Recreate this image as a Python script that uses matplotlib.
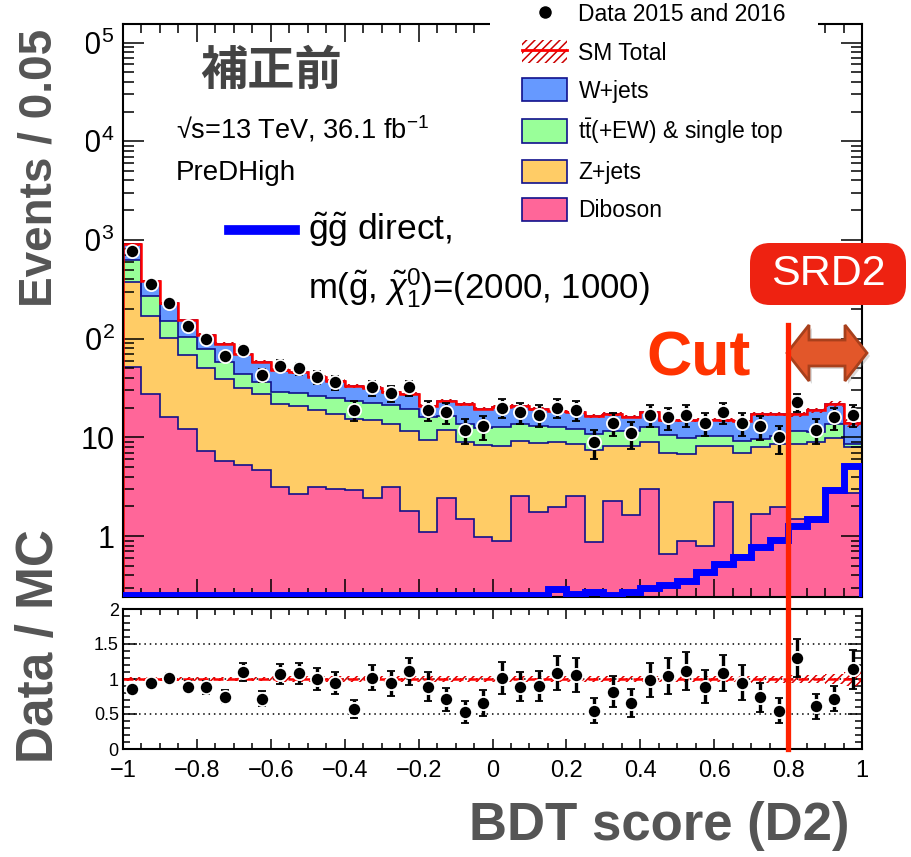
import numpy as np
import matplotlib
matplotlib.use("Agg")
import matplotlib.pyplot as plt
import matplotlib.transforms as mtransforms
from matplotlib.patches import Patch, Polygon, FancyBboxPatch, Rectangle
from matplotlib.lines import Line2D
from matplotlib.ticker import (MultipleLocator, LogLocator, FixedLocator, FuncFormatter,
                               NullFormatter)

plt.rcParams['font.family'] = ['Liberation Sans', 'Noto Sans CJK JP', 'DejaVu Sans']
plt.rcParams['mathtext.fontset'] = 'custom'
plt.rcParams['mathtext.rm'] = 'Liberation Sans'
plt.rcParams['mathtext.it'] = 'Liberation Sans:italic'
plt.rcParams['mathtext.bf'] = 'Liberation Sans:bold'
plt.rcParams['hatch.linewidth'] = 1.1

# 40 bins of BDT score between -1 and 1
x_lo, x_hi, n_bins = -1.0, 1.0, 40
cut_value = 0.8
y_major = [1, 10, 100, 1000, 10000, 100000]

diboson = [52, 27.4, 15.9, 12.1, 7.3, 5.8, 5.2, 4.65, 3.14, 2.65,
           3.15, 2.98, 2.91, 2.45, 3.15, 1.8, 1.1, 2.45, 1.5, 0.97,
           0.9, 2.55, 1.75, 1.99, 2.55, 0.875, 2.27, 1.63, 2.98, 0.65,
           0.88, 0.80, 2.23, 0.64, 1.66, 1.95, 1.5, 1.4, 2.8, 2.75]
zjets = [321, 143.6, 86.1, 56.7, 43.1, 33.2, 26.4, 22.75, 18.56, 18.35,
         15.95, 14.32, 12.39, 12.55, 10.65, 9.8, 8.4, 9.35, 7.5, 7.43,
         7.3, 6.65, 6.95, 6.91, 5.95, 6.53, 5.93, 6.57, 6.02, 6.35,
         5.87, 7.4, 5.97, 6.36, 6.34, 6.55, 7.15, 7.5, 7.15, 5.15]
ttbar = [257, 102, 50, 34.2, 28.1, 19.3, 12.2, 8.6, 6.8, 7.0,
         7.4, 7.7, 8.2, 7.5, 7.7, 7.9, 6.5, 4.7, 4.8, 4.1,
         4.6, 4.6, 4.4, 3.7, 3.6, 3.4, 3.4, 3.4, 3.6, 3.6,
         3.2, 2.2, 2.2, 2.2, 1.6, 1.9, 2.95, 2.3, 3.65, 0.6]
wjets = [270, 109, 76, 52, 31.5, 30, 26.2, 22.3, 19.5, 17.5,
         14.6, 12.5, 9.8, 9.1, 7.0, 7.9, 5.0, 7.0, 7.9, 7.0,
         7.6, 7.1, 6.2, 5.7, 5.8, 5.7, 5.6, 4.6, 5.3, 4.4,
         5.05, 4.6, 4.6, 5.3, 7.6, 6.8, 5.6, 7.7, 8.1, 5.6]
signal = [0.255, 0.255, 0.255, 0.255, 0.255, 0.255, 0.255, 0.255, 0.255, 0.255,
          0.255, 0.255, 0.255, 0.255, 0.255, 0.255, 0.255, 0.255, 0.255, 0.255,
          0.255, 0.255, 0.255, 0.29, 0.26, 0.27, 0.255, 0.27, 0.30, 0.32,
          0.35, 0.43, 0.52, 0.62, 0.78, 0.92, 1.25, 1.5, 2.9, 5.1]
data = [770, 359, 228, 135, 99, 66, 77, 43, 53, 50,
        41, 36, 19, 32, 28, 32, 19, 18, 12, 13,
        20, 18, 17, 20, 19, 9, 14, 11, 17, 16,
        17, 14, 18, 14, 13, 10, 23, 12, 16, 17]
ratio = [0.86, 0.94, 1.02, 0.89, 0.88, 0.75, 1.10, 0.72, 1.07, 1.08,
         1.00, 0.94, 0.57, 1.02, 0.94, 1.11, 0.89, 0.71, 0.53, 0.66,
         1.01, 0.89, 0.90, 1.09, 1.06, 0.55, 0.82, 0.66, 0.99, 1.04,
         1.11, 0.89, 1.09, 0.95, 0.74, 0.55, 1.30, 0.61, 0.72, 1.14]
sm_rel_unc = [0.03, 0.03, 0.03, 0.03, 0.035, 0.035, 0.035, 0.035, 0.04, 0.04,
              0.04, 0.04, 0.04, 0.04, 0.04, 0.04, 0.04, 0.04, 0.04, 0.04,
              0.04, 0.04, 0.04, 0.04, 0.04, 0.04, 0.04, 0.04, 0.04, 0.04,
              0.04, 0.04, 0.04, 0.04, 0.05, 0.05, 0.06, 0.06, 0.07, 0.10]
ratio_lines = [0.5, 1.0, 1.5]

processes = [("Diboson", diboson, "#ff6699"),
             ("Z+jets", zjets, "#ffcc66"),
             (r"$\mathrm{t}\bar{\mathrm{t}}$(+EW) & single top", ttbar, "#99ff99"),
             ("W+jets", wjets, "#6699ff")]
navy = "#10108c"
label_grey = "#555555"

edges = np.linspace(x_lo, x_hi, n_bins + 1)
centers = 0.5 * (edges[1:] + edges[:-1])
data = np.array(data, dtype=float)
ratio = np.array(ratio)
unc = np.array(sm_rel_unc)

fig = plt.figure(figsize=(9.12, 8.57), dpi=100)
ax = fig.add_axes([123 / 912, 260.3 / 857, 739 / 912, 572.7 / 857])
axr = fig.add_axes([123 / 912, 108 / 857, 739 / 912, 140 / 857])

# stacked backgrounds
base = np.full(n_bins, 1e-3)
for name, vals, col in processes:
    top = base + np.array(vals)
    ax.stairs(top, edges, baseline=base, fill=True, color=col, lw=0, zorder=1)
    ax.stairs(top, edges, baseline=None, color=navy, lw=1.2, zorder=1.5)
    base = top
total = base

ax.stairs(total * (1 + unc), edges, baseline=total * (1 - unc), fill=True,
          facecolor="none", edgecolor="#cc0000", hatch="////", lw=0, zorder=2)
ax.stairs(total, edges, baseline=1e-3, color="red", lw=1.8, zorder=2.2)
ax.stairs(signal, edges, baseline=1e-3, color="#0000ff", lw=5, zorder=3)

ax.errorbar(centers, data, yerr=np.sqrt(data), fmt="o", ms=9.5, mfc="k", mec="white",
            mew=1.3, ecolor="k", elinewidth=2.4, capsize=3, capthick=2.4, zorder=6)

ax.set_xlim(x_lo, x_hi)
ax.set_yscale("log")
ax.set_ylim(0.243, 1.54e5)
ax.xaxis.set_major_locator(MultipleLocator(0.2))
ax.xaxis.set_minor_locator(MultipleLocator(0.05))
ax.yaxis.set_major_locator(FixedLocator(y_major))
ax.yaxis.set_minor_locator(LogLocator(base=10, subs=np.arange(2, 10), numticks=20))
ax.yaxis.set_minor_formatter(NullFormatter())


def log_label(v, pos):
    if v < 5:
        return "1"
    if v < 50:
        return "10"
    return r"$10^{%d}$" % round(np.log10(v))


ax.yaxis.set_major_formatter(FuncFormatter(log_label))
ax.tick_params(which="both", direction="in", top=True, right=True, width=1.1)
ax.tick_params(axis="x", which="major", length=13, labelbottom=False)
ax.tick_params(axis="x", which="minor", length=6.5)
ax.tick_params(axis="y", which="major", length=15, labelsize=22, pad=6)
ax.tick_params(axis="y", which="minor", length=8)
for sp in ax.spines.values():
    sp.set_linewidth(1.5)

# ratio panel
for lv in ratio_lines:
    axr.axhline(lv, color="k", ls=(0, (1, 2.5)), lw=1.1, zorder=1)
axr.stairs(1 + unc, edges, baseline=1 - unc, fill=True, facecolor="none",
           edgecolor="#dd0000", hatch="////", lw=0, zorder=2)
axr.axhline(1.0, color="red", ls=(0, (4, 2)), lw=1.8, zorder=2.5)
axr.errorbar(centers, ratio, yerr=ratio / np.sqrt(data), fmt="o", ms=9.5, mfc="k",
             mec="white", mew=1.3, ecolor="k", elinewidth=2.4, capsize=3,
             capthick=2.4, zorder=6)
axr.set_xlim(x_lo, x_hi)
axr.set_ylim(0, 2)
axr.xaxis.set_major_locator(MultipleLocator(0.2))
axr.xaxis.set_minor_locator(MultipleLocator(0.05))
axr.yaxis.set_major_locator(MultipleLocator(0.5))
axr.yaxis.set_minor_locator(MultipleLocator(0.1))


def num_label(v, pos):
    s = "%g" % round(v, 2)
    if s == "-0":
        s = "0"
    return s.replace("-", "\u2212")


axr.xaxis.set_major_formatter(FuncFormatter(num_label))
axr.yaxis.set_major_formatter(FuncFormatter(num_label))
axr.tick_params(which="both", direction="in", top=True, right=True, width=1.1)
axr.tick_params(axis="x", which="major", length=7, labelsize=17, pad=8)
axr.tick_params(axis="x", which="minor", length=4)
axr.tick_params(axis="y", which="major", length=10, labelsize=13, pad=3)
axr.tick_params(axis="y", which="minor", length=5)
for sp in axr.spines.values():
    sp.set_linewidth(1.5)

# cut line through both panels
trans = mtransforms.blended_transform_factory(axr.transData, fig.transFigure)
fig.add_artist(Line2D([cut_value, cut_value], [108 / 857, (857 - 325) / 857],
                      transform=trans, color="#ff2200", lw=3.8, zorder=5))

# legend
h_data = Line2D([], [], marker="o", ls="none", color="k", ms=10, mec="white")
h_sm = (Patch(facecolor="none", edgecolor="#cc0000", hatch="////", lw=0),
        Line2D([], [], color="red", lw=2))
handles = [h_data, h_sm]
labels = ["Data 2015 and 2016", "SM Total"]
for name, vals, col in processes[::-1]:
    handles.append(Patch(facecolor=col, edgecolor=navy, lw=1.2))
    labels.append(name)
ax.legend(handles, labels, loc="upper left", bbox_to_anchor=(490 / 912, (857 + 30) / 857),
          bbox_transform=fig.transFigure, fontsize=16.5, frameon=True, facecolor="white",
          edgecolor="none", framealpha=1, fancybox=False, handlelength=1.96,
          handleheight=1.18, handletextpad=0.5, labelspacing=0.6, borderpad=1.4,
          borderaxespad=0)

# texts
inch = fig.dpi_scale_trans
fig.patches.append(Rectangle((0, (857 - 390) / 100), 0.855, 3.9, transform=inch,
                             facecolor="white", edgecolor="none", zorder=1))
fig.text(40 / 912, 1 - 168 / 857, "Events / 0.05", rotation=90, fontsize=33,
         fontweight="bold", color=label_grey, ha="center", va="center")
fig.text(40 / 912, 1 - 646 / 857, "Data / MC", rotation=90, fontsize=37,
         fontweight="bold", color=label_grey, ha="center", va="center")
fig.text(850 / 912, 1 - 840 / 857, "BDT score (D2)", fontsize=38, fontweight="bold",
         color=label_grey, ha="right", va="baseline")

fig.text(200 / 912, 1 - 71 / 857, "補正前", fontsize=34, fontweight="bold",
         family=["Noto Sans CJK JP"], color="#444444", va="center")
fig.text(176 / 912, 1 - 138 / 857, "\u221as=13 TeV, 36.1 fb$^{-1}$", fontsize=19.5,
         va="baseline")
fig.text(176 / 912, 1 - 180 / 857, "PreDHigh", fontsize=20, va="baseline")

fig.add_artist(Line2D([2.29, 2.95], [(857 - 230) / 100] * 2, transform=inch,
                      color="#0000ff", lw=7))
fig.text(308 / 912, 1 - 240 / 857, r"$\tilde{\mathrm{g}}\tilde{\mathrm{g}}$ direct,",
         fontsize=25.5, va="baseline")
fig.text(308 / 912, 1 - 298 / 857,
         r"m($\tilde{\mathrm{g}}$, $\tilde{\chi}^{0}_{1}$)=(2000, 1000)",
         fontsize=25, va="baseline")

fig.text(646 / 912, 1 - 375 / 857, "Cut", fontsize=45, fontweight="bold",
         color="#ff3300", va="baseline")

fig.patches.append(FancyBboxPatch((7.50, (857 - 305) / 100), 1.56, 0.62,
                                  boxstyle="round,pad=0,rounding_size=0.2",
                                  transform=inch, facecolor="#ee2211",
                                  edgecolor="none", zorder=2))
fig.text(828 / 912, 1 - 274 / 857, "SRD2", fontsize=31, color="white",
         ha="center", va="center", zorder=3)

# double arrow for the signal region
arrow_px = [(787, 353), (809, 325), (809, 340), (845, 340), (845, 325), (867, 353),
            (845, 381), (845, 366), (809, 366), (809, 381)]
shadow = [((x + 3) / 100, (857 - y - 3) / 100) for x, y in arrow_px]
fig.patches.append(Polygon(shadow, closed=True, transform=inch, facecolor="#888888",
                           edgecolor="none", alpha=0.3, zorder=2))
fig.patches.append(Polygon([(x / 100, (857 - y) / 100) for x, y in arrow_px], closed=True,
                           transform=inch, facecolor="#e2572a", edgecolor="#a8401c",
                           lw=2, zorder=3))

fig.savefig("out.png", dpi=100)
